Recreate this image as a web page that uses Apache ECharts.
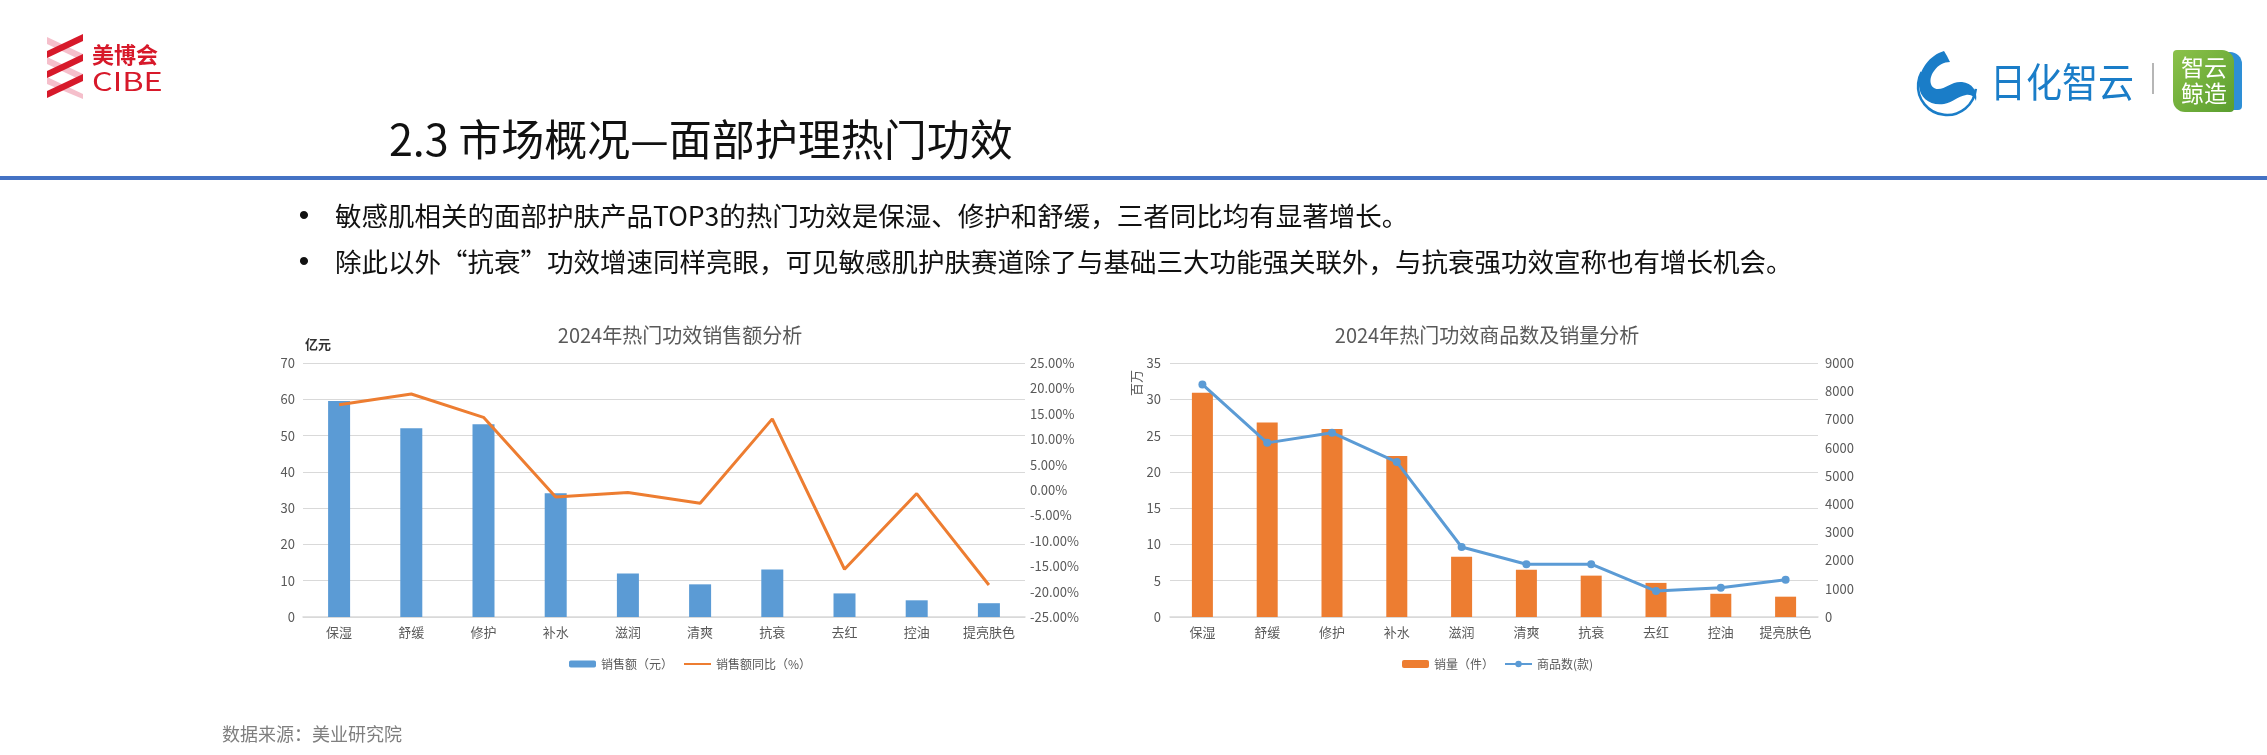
<!DOCTYPE html>
<html>
<head>
<meta charset="utf-8">
<script src="https://cdn.jsdelivr.net/npm/echarts@6/dist/echarts.min.js"></script>
<style>
html,body{margin:0;padding:0;background:#fff;}
#main{width:2267px;height:755px;}
</style>
</head>
<body>
<div id="main"></div>
<script>
// ---- data ----
const categories = ['保湿','舒缓','修护','补水','滋润','清爽','抗衰','去红','控油','提亮肤色'];
const salesAmount = [59.5, 52.0, 53.1, 34.1, 12.0, 9.0, 13.1, 6.5, 4.6, 3.8];          // 亿元
const salesYoY = [16.8, 18.9, 14.3, -1.4, -0.5, -2.6, 14.0, -15.6, -0.7, -18.7];       // %
const salesVolume = [30.9, 26.8, 25.9, 22.2, 8.3, 6.5, 5.7, 4.7, 3.2, 2.8];            // 百万件
const productCount = [8240, 6170, 6530, 5490, 2480, 1870, 1870, 920, 1040, 1320];      // 款
const leftTicks = {min: 0, max: 70, interval: 10};
const yoyTicks = {min: -25, max: 25, interval: 5};
const volTicks = {min: 0, max: 35, interval: 5};
const cntTicks = {min: 0, max: 9000, interval: 1000};

const FONT = '"Noto Sans CJK SC", "Noto Sans", sans-serif';
const chart = echarts.init(document.getElementById('main'));

function txt(x, y, text, size, fill, opts) {
  opts = opts || {};
  return {
    type: 'text', x: x, y: y,
    rotation: opts.rotation || 0,
    scaleX: opts.scaleX || 1,
    style: {
      text: text, x: 0, y: 0,
      font: (opts.weight || 'normal') + ' ' + size + 'px ' + (opts.family || FONT),
      fill: fill,
      textAlign: opts.align || 'left', align: opts.align || 'left',
      textVerticalAlign: 'middle', verticalAlign: 'middle'
    },
    silent: true
  };
}

// whale logo shape
const whalePath = 'M1944 51 C1930 55 1918 70 1919 86 C1920 98 1930 106 1944 104 C1952 103 1958 96 1966 95 C1972 94 1975 98 1976 101 C1978 91 1972 83 1962 82 C1952 81 1946 89 1938 89 C1930 89 1928 79 1934 71 C1938 65 1944 62 1950 62 L1947 56 Z';
let whaleEl;
try {
  echarts.graphic.registerShape('whaleShape', echarts.graphic.extendPath(whalePath, {}));
  whaleEl = {type: 'whaleShape', style: {fill: '#1A7DC8'}, silent: true};
} catch (e) {
  whaleEl = {type: 'polygon', shape: {smooth: 0.4, points: [[1944,52],[1922,70],[1920,90],[1940,104],[1962,95],[1977,102],[1966,84],[1940,90],[1932,76],[1950,63]]}, style: {fill: '#1A7DC8'}, silent: true};
}

const axisLabelStyle = {color: '#595959', fontSize: 13, fontFamily: FONT};

const graphics = [
  {type: 'rect', shape: {x: 0, y: 176, width: 2267, height: 4}, style: {fill: '#4472C4'}, silent: true},
  txt(389, 140, '2.3 市场概况—面部护理热门功效', 43, '#111'),
  txt(304, 217, '•', 30, '#111', {align: 'center', family: '"Liberation Sans", sans-serif'}),
  txt(335, 216, '敏感肌相关的面部护肤产品TOP3的热门功效是保湿、修护和舒缓，三者同比均有显著增长。', 26.5, '#111'),
  txt(304, 263, '•', 30, '#111', {align: 'center', family: '"Liberation Sans", sans-serif'}),
  txt(335, 262, '除此以外“抗衰”功效增速同样亮眼，可见敏感肌护肤赛道除了与基础三大功能强关联外，与抗衰强功效宣称也有增长机会。', 26.5, '#111'),
  txt(680, 335, '2024年热门功效销售额分析', 20, '#595959', {align: 'center'}),
  txt(1487, 335, '2024年热门功效商品数及销量分析', 20, '#595959', {align: 'center'}),
  txt(305, 344, '亿元', 13, '#333', {weight: 'bold'}),
  txt(1136, 383, '百万', 13, '#595959', {align: 'center', rotation: Math.PI / 2}),
  txt(222, 734, '数据来源：美业研究院', 18, '#7f7f7f'),
  // CIBE logo
  {type: 'polygon', shape: {points: [[47,37],[83,54],[83,61],[47,44]]}, style: {fill: '#F5BFCB'}, silent: true},
  {type: 'polygon', shape: {points: [[47,57],[83,74],[83,81],[47,64]]}, style: {fill: '#F5BFCB'}, silent: true},
  {type: 'polygon', shape: {points: [[47,77],[83,94],[83,99],[47,84]]}, style: {fill: '#F5BFCB'}, silent: true},
  {type: 'polygon', shape: {points: [[47,51],[83,34],[83,41],[47,58]]}, style: {fill: '#D7192A'}, silent: true},
  {type: 'polygon', shape: {points: [[47,71],[83,54],[83,61],[47,78]]}, style: {fill: '#D7192A'}, silent: true},
  {type: 'polygon', shape: {points: [[47,91],[83,74],[83,81],[47,98]]}, style: {fill: '#D7192A'}, silent: true},
  txt(92, 55, '美博会', 22, '#D7192A', {weight: 'bold'}),
  txt(92, 81, 'CIBE', 25, '#D7192A', {scaleX: 1.3}),
  // right logo
  {type: 'arc', shape: {cx: 1947, cy: 86, r: 29, startAngle: 0.1, endAngle: Math.PI + 0.5, clockwise: true},
   style: {stroke: '#1A7DC8', lineWidth: 2.5, fill: null}, silent: true},
  whaleEl,
  txt(1990, 82, '日化智云', 40, '#1A7DC8', {scaleX: 0.9}),
  {type: 'line', shape: {x1: 2153, y1: 63, x2: 2153, y2: 94}, style: {stroke: '#9E9E9E', lineWidth: 1.5}, silent: true},
  {type: 'rect', shape: {x: 2180, y: 52, width: 62, height: 58, r: [4, 12, 4, 12]}, style: {fill: '#2E8FD6'}, silent: true},
  {type: 'rect', shape: {x: 2173, y: 50, width: 61, height: 62, r: [4, 12, 4, 12]},
   style: {fill: new echarts.graphic.LinearGradient(0, 0, 1, 1, [{offset: 0, color: '#8CC24A'}, {offset: 1, color: '#5A9E2F'}])}, silent: true},
  txt(2204, 67, '智云', 23, '#ffffff', {align: 'center'}),
  txt(2204, 93, '鲸造', 23, '#ffffff', {align: 'center'})
];

const option = {
  animation: false,
  backgroundColor: '#fff',
  textStyle: {fontFamily: FONT},
  graphic: {elements: graphics},
  legend: [
    {
      data: ['销售额（元）', {name: '销售额同比（%）', itemStyle: {opacity: 0}}],
      left: 564, top: 653, itemWidth: 27, itemHeight: 7, itemGap: 10,
      textStyle: {color: '#595959', fontSize: 12, fontFamily: FONT}
    },
    {
      data: ['销量（件）', '商品数(款)'],
      left: 1397, top: 653, itemWidth: 27, itemHeight: 8, itemGap: 10,
      textStyle: {color: '#595959', fontSize: 12, fontFamily: FONT}
    }
  ],
  grid: [
    {left: 303, top: 363, width: 722, height: 254, outerBoundsMode: 'none'},
    {left: 1170, top: 363, width: 648, height: 254, outerBoundsMode: 'none'}
  ],
  xAxis: [
    {type: 'category', gridIndex: 0, data: categories, axisTick: {show: false},
     axisLine: {lineStyle: {color: '#d9d9d9', width: 1.5}}, axisLabel: Object.assign({margin: 9, interval: 0}, axisLabelStyle)},
    {type: 'category', gridIndex: 1, data: categories, axisTick: {show: false},
     axisLine: {lineStyle: {color: '#d9d9d9', width: 1.5}}, axisLabel: Object.assign({margin: 9, interval: 0}, axisLabelStyle)}
  ],
  yAxis: [
    {type: 'value', gridIndex: 0, min: leftTicks.min, max: leftTicks.max, interval: leftTicks.interval,
     axisLine: {show: false}, axisTick: {show: false},
     splitLine: {lineStyle: {color: '#d9d9d9', width: 1}},
     axisLabel: Object.assign({margin: 8}, axisLabelStyle)},
    {type: 'value', gridIndex: 0, position: 'right', min: yoyTicks.min, max: yoyTicks.max, interval: yoyTicks.interval,
     axisLine: {show: false}, axisTick: {show: false}, splitLine: {show: false},
     axisLabel: Object.assign({margin: 5, formatter: v => v.toFixed(2) + '%'}, axisLabelStyle)},
    {type: 'value', gridIndex: 1, min: volTicks.min, max: volTicks.max, interval: volTicks.interval,
     axisLine: {show: false}, axisTick: {show: false},
     splitLine: {lineStyle: {color: '#d9d9d9', width: 1}},
     axisLabel: Object.assign({margin: 9}, axisLabelStyle)},
    {type: 'value', gridIndex: 1, position: 'right', min: cntTicks.min, max: cntTicks.max, interval: cntTicks.interval,
     axisLine: {show: false}, axisTick: {show: false}, splitLine: {show: false},
     axisLabel: Object.assign({margin: 7, formatter: v => String(v)}, axisLabelStyle)}
  ],
  series: [
    {name: '销售额（元）', type: 'bar', xAxisIndex: 0, yAxisIndex: 0, data: salesAmount,
     barWidth: 22, itemStyle: {color: '#5B9BD5'}},
    {name: '销售额同比（%）', type: 'line', xAxisIndex: 0, yAxisIndex: 1, data: salesYoY,
     symbol: 'none', showSymbol: false, lineStyle: {color: '#ED7D31', width: 3}, itemStyle: {color: '#ED7D31'}},
    {name: '销量（件）', type: 'bar', xAxisIndex: 1, yAxisIndex: 2, data: salesVolume,
     barWidth: 21, itemStyle: {color: '#ED7D31'}},
    {name: '商品数(款)', type: 'line', xAxisIndex: 1, yAxisIndex: 3, data: productCount,
     symbol: 'circle', symbolSize: 8, showSymbol: true,
     lineStyle: {color: '#5B9BD5', width: 3}, itemStyle: {color: '#5B9BD5'}}
  ]
};
chart.setOption(option);
</script>
</body>
</html>
